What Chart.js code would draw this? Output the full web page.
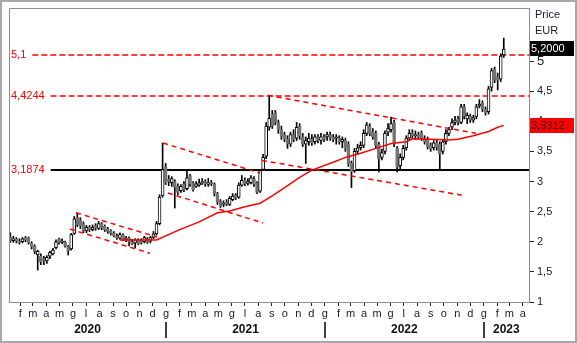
<!DOCTYPE html>
<html>
<head>
<meta charset="utf-8">
<script src="https://cdn.jsdelivr.net/npm/chart.js@4.4.1/dist/chart.umd.min.js"></script>
<style>
  html, body { margin: 0; padding: 0; background: #fff; }
  #wrap { width: 577px; height: 343px; }
</style>
</head>
<body>
<div id="wrap"><canvas id="chart" width="577" height="343"></canvas></div>
<script>
// Candele settimanali, la prima il 9 gennaio 2020
const firstWeek = '2020-01-09';
const rangeStart = '2020-01-06';
const rangeEnd = '2023-04-15';

const opens = [
  2.08, 2.02, 2.05, 2.01, 2.00, 2.07, 2.06, 1.98, 1.93, 1.78,
  1.76, 1.72, 1.68, 1.76, 1.80, 1.90, 2.04, 1.99, 1.99, 1.92,
  1.88, 2.14, 2.40, 2.36, 2.30, 2.18, 2.24, 2.20, 2.27, 2.22,
  2.30, 2.26, 2.21, 2.18, 2.14, 2.10, 2.06, 2.11, 2.04, 2.06,
  2.00, 1.98, 2.03, 2.02, 2.00, 2.05, 2.01, 2.07, 2.13, 2.30,
  2.76, 3.24, 3.04, 2.98, 3.00, 2.92, 2.85, 2.96, 2.88, 3.10,
  2.98, 2.92, 2.94, 2.98, 3.00, 2.95, 2.98, 2.96, 2.80, 2.68,
  2.62, 2.66, 2.62, 2.70, 2.78, 2.74, 2.94, 3.02, 2.97, 2.98,
  3.05, 2.98, 2.84, 3.20, 3.42, 3.90, 4.12, 4.14, 3.98, 3.86,
  3.78, 3.70, 3.62, 3.78, 3.72, 3.92, 3.74, 3.62, 3.66, 3.70,
  3.66, 3.74, 3.68, 3.74, 3.74, 3.78, 3.74, 3.72, 3.72, 3.66,
  3.68, 3.62, 3.30, 3.18, 3.50, 3.56, 3.60, 3.80, 3.92, 3.82,
  3.80, 3.62, 3.40, 3.50, 3.82, 3.86, 3.98, 3.55, 3.26, 3.40,
  3.56, 3.72, 3.80, 3.76, 3.78, 3.80, 3.72, 3.70, 3.60, 3.56,
  3.64, 3.62, 3.50, 3.66, 3.80, 3.90, 3.98, 4.04, 3.98, 4.24,
  4.04, 4.08, 4.02, 4.08, 4.26, 4.30, 4.20, 4.16, 4.56, 4.86,
  4.74, 4.70, 5.10
];
const highs = [
  2.15, 2.09, 2.07, 2.05, 2.07, 2.09, 2.08, 2.00, 1.95, 1.86,
  1.80, 1.76, 1.77, 1.84, 1.89, 2.03, 2.06, 2.05, 2.01, 1.94,
  2.14, 2.42, 2.48, 2.40, 2.33, 2.27, 2.27, 2.28, 2.30, 2.34,
  2.32, 2.28, 2.24, 2.20, 2.17, 2.13, 2.15, 2.13, 2.09, 2.08,
  2.04, 2.05, 2.05, 2.05, 2.09, 2.07, 2.09, 2.17, 2.34, 2.78,
  3.64, 3.30, 3.10, 3.08, 3.03, 2.96, 2.95, 3.00, 3.20, 3.12,
  3.00, 3.00, 3.04, 3.05, 3.03, 3.05, 3.02, 2.98, 2.82, 2.70,
  2.68, 2.70, 2.75, 2.80, 2.80, 2.98, 3.10, 3.06, 3.05, 3.10,
  3.08, 3.00, 3.20, 3.45, 3.98, 4.43, 4.18, 4.18, 4.02, 3.92,
  3.82, 3.76, 3.82, 3.86, 3.98, 3.96, 3.80, 3.74, 3.80, 3.78,
  3.78, 3.78, 3.80, 3.78, 3.82, 3.82, 3.78, 3.78, 3.76, 3.74,
  3.72, 3.66, 3.34, 3.55, 3.62, 3.66, 3.86, 3.98, 3.96, 3.88,
  3.84, 3.65, 3.54, 3.84, 3.96, 4.07, 4.02, 3.58, 3.46, 3.60,
  3.76, 3.86, 3.86, 3.84, 3.82, 3.84, 3.76, 3.74, 3.64, 3.68,
  3.70, 3.66, 3.70, 3.86, 3.90, 4.04, 4.08, 4.08, 4.28, 4.28,
  4.14, 4.12, 4.10, 4.28, 4.36, 4.34, 4.24, 4.58, 4.88, 4.90,
  4.80, 5.12, 5.38
];
const lows = [
  1.99, 1.99, 1.98, 1.96, 1.98, 2.00, 1.96, 1.88, 1.80, 1.53,
  1.62, 1.62, 1.64, 1.72, 1.78, 1.88, 1.96, 1.97, 1.91, 1.78,
  1.86, 2.12, 2.25, 2.22, 2.15, 2.15, 2.17, 2.18, 2.19, 2.20,
  2.20, 2.17, 2.14, 2.11, 2.08, 2.04, 2.04, 2.02, 2.00, 1.93,
  1.95, 1.90, 1.95, 1.96, 1.98, 1.97, 1.98, 2.05, 2.11, 2.28,
  2.74, 2.95, 2.93, 2.92, 2.56, 2.78, 2.82, 2.83, 2.86, 2.92,
  2.84, 2.90, 2.92, 2.95, 2.92, 2.92, 2.93, 2.76, 2.62, 2.57,
  2.58, 2.60, 2.60, 2.68, 2.70, 2.72, 2.92, 2.93, 2.94, 2.96,
  2.92, 2.80, 2.82, 3.18, 3.38, 3.85, 3.88, 3.94, 3.80, 3.70,
  3.66, 3.55, 3.58, 3.66, 3.68, 3.70, 3.58, 3.30, 3.60, 3.60,
  3.62, 3.64, 3.62, 3.66, 3.68, 3.68, 3.66, 3.62, 3.62, 3.56,
  3.50, 3.25, 2.90, 3.15, 3.46, 3.52, 3.56, 3.76, 3.76, 3.70,
  3.55, 3.16, 3.36, 3.46, 3.76, 3.82, 3.58, 3.16, 3.20, 3.36,
  3.52, 3.68, 3.72, 3.70, 3.70, 3.68, 3.62, 3.54, 3.50, 3.52,
  3.52, 3.18, 3.46, 3.62, 3.76, 3.86, 3.94, 3.94, 3.96, 4.04,
  3.96, 3.98, 3.98, 4.04, 4.22, 4.16, 4.10, 4.12, 4.50, 4.64,
  4.52, 4.66, 5.06
];
const closes = [
  2.02, 2.05, 2.01, 2.00, 2.05, 2.03, 1.98, 1.92, 1.84, 1.84,
  1.67, 1.68, 1.74, 1.82, 1.86, 2.00, 1.99, 2.01, 1.93, 1.85,
  2.12, 2.38, 2.28, 2.26, 2.18, 2.24, 2.20, 2.24, 2.22, 2.30,
  2.24, 2.20, 2.17, 2.14, 2.10, 2.06, 2.12, 2.04, 2.06, 2.00,
  1.97, 2.03, 1.97, 1.99, 2.07, 1.99, 2.07, 2.13, 2.30, 2.74,
  3.20, 2.98, 3.00, 3.05, 2.90, 2.82, 2.92, 2.86, 3.06, 2.96,
  2.86, 2.96, 2.98, 3.00, 2.96, 2.98, 2.96, 2.80, 2.66, 2.60,
  2.64, 2.62, 2.72, 2.76, 2.72, 2.94, 3.02, 2.96, 3.00, 3.06,
  2.96, 2.82, 3.18, 3.40, 3.92, 4.05, 3.92, 3.98, 3.86, 3.75,
  3.70, 3.62, 3.78, 3.70, 3.90, 3.76, 3.62, 3.68, 3.72, 3.64,
  3.74, 3.68, 3.74, 3.70, 3.78, 3.72, 3.70, 3.74, 3.66, 3.70,
  3.55, 3.30, 3.16, 3.50, 3.56, 3.60, 3.80, 3.94, 3.80, 3.74,
  3.60, 3.38, 3.48, 3.80, 3.88, 3.96, 3.62, 3.24, 3.40, 3.55,
  3.72, 3.80, 3.76, 3.78, 3.74, 3.72, 3.66, 3.58, 3.54, 3.64,
  3.58, 3.46, 3.66, 3.80, 3.86, 3.98, 4.02, 3.98, 4.24, 4.08,
  4.10, 4.02, 4.06, 4.24, 4.28, 4.20, 4.14, 4.54, 4.84, 4.70,
  4.68, 5.08, 5.20
];

// media mobile: settimana (indice candela) e valore
const maWeeks = [36, 42, 48, 56, 62, 68, 72, 77, 82, 86, 91, 95, 99, 106, 110, 115, 120, 125, 130, 132, 138, 144, 147, 152, 157, 160, 162];
const maValues = [2.03, 2.03, 2.03, 2.21, 2.33, 2.48, 2.51, 2.58, 2.64, 2.76, 2.93, 3.07, 3.19, 3.32, 3.40, 3.47, 3.55, 3.63, 3.66, 3.71, 3.70, 3.69, 3.70, 3.76, 3.83, 3.90, 3.9312];

// linee di tendenza: [da, valore, a, valore]
const trendLines = [
  ['2020-06-08', 2.48, '2020-12-11', 2.08],
  ['2020-05-25', 2.21, '2020-11-25', 1.81],
  ['2020-12-25', 3.64, '2021-08-05', 3.14],
  ['2021-01-05', 2.81, '2021-08-12', 2.31],
  ['2021-08-23', 4.43, '2022-12-14', 3.80],
  ['2021-08-09', 3.35, '2022-11-14', 2.77]
];

// livelli orizzontali
const levelValues = [5.1, 4.4244, 3.1874];
const levelLabels = ['5,1', '4,4244', '3,1874'];

const lastPrice = 5.2;
const lastAverage = 3.9312;

const yTicks = [1, 1.5, 2, 2.5, 3, 3.5, 4, 4.5, 5];
const monthLetters = ['g', 'f', 'm', 'a', 'm', 'g', 'l', 'a', 's', 'o', 'n', 'd'];
const years = [2020, 2021, 2022, 2023];

const fontFamily = "'Liberation Sans', Arial, sans-serif";
const textColor = '#1a1a2e';
const axisColor = '#8c8c96';
const red = '#ff0000';
const downColor = '#747474';

const epoch = Date.UTC(2020, 0, 1);
const toDay = s => (Date.parse(s) - epoch) / 864e5;
const firstDay = toDay(firstWeek);
const weekDays = closes.map((c, i) => firstDay + 7 * i);
const xMin = toDay(rangeStart);
const xMax = toDay(rangeEnd);

// inizio di ogni mese visibile
const monthTicks = [];
years.forEach(yr => {
  for (let m = 0; m < 12; m++) {
    const d = (Date.UTC(yr, m, 1) - epoch) / 864e5;
    if (d >= xMin && d <= xMax) monthTicks.push({ value: d, letter: monthLetters[m] });
  }
});

const isUp = i => closes[i] >= opens[i];

const datasets = [
  {
    type: 'line',
    data: maWeeks.map((w, k) => ({ x: weekDays[w], y: maValues[k] })),
    borderColor: red,
    borderWidth: 1.5,
    pointRadius: 0,
    order: 0
  },
  ...trendLines.map(t => ({
    type: 'line',
    data: [{ x: toDay(t[0]), y: t[1] }, { x: toDay(t[2]), y: t[3] }],
    borderColor: red,
    borderWidth: 1.5,
    borderDash: [5, 4],
    pointRadius: 0,
    order: 0
  })),
  {
    type: 'bar',
    data: weekDays.map((d, i) => ({ x: d, y: [opens[i], closes[i]] })),
    backgroundColor: ctx => isUp(ctx.dataIndex) ? '#ffffff' : downColor,
    borderColor: ctx => isUp(ctx.dataIndex) ? '#000000' : downColor,
    borderWidth: 1,
    borderSkipped: false,
    barThickness: 3,
    grouped: false,
    order: 1
  },
  {
    type: 'bar',
    data: weekDays.map((d, i) => ({ x: d, y: [lows[i], highs[i]] })),
    backgroundColor: '#000000',
    barThickness: 1,
    grouped: false,
    order: 2
  }
];

// cornice esterna e bordi sinistro/superiore dell'area del grafico
const framePlugin = {
  id: 'frame',
  beforeDraw(chart) {
    const { ctx, width, height } = chart;
    ctx.save();
    ctx.fillStyle = '#ffffff';
    ctx.fillRect(0, 0, width, height);
    ctx.strokeStyle = '#a8a8a8';
    ctx.lineWidth = 2;
    ctx.strokeRect(1, 1, width - 2, height - 2);
    ctx.restore();
  },
  afterDatasetsDraw(chart) {
    const { ctx, chartArea: a } = chart;
    ctx.save();
    ctx.strokeStyle = axisColor;
    ctx.lineWidth = 1;
    ctx.beginPath();
    ctx.moveTo(a.left + 0.5, a.bottom);
    ctx.lineTo(a.left + 0.5, a.top + 0.5);
    ctx.lineTo(a.right, a.top + 0.5);
    ctx.stroke();
    ctx.restore();
  }
};

// livelli di prezzo con etichetta a sinistra
const levelPlugin = {
  id: 'levels',
  beforeDatasetsDraw(chart) {
    const { ctx, chartArea: a, scales: { y } } = chart;
    ctx.save();
    ctx.font = `11px ${fontFamily}`;
    ctx.textBaseline = 'middle';
    levelValues.forEach((v, k) => {
      const py = Math.round(y.getPixelForValue(v));
      const label = levelLabels[k];
      ctx.fillStyle = red;
      ctx.fillText(label, a.left + 2, py);
      const x0 = a.left + 2 + ctx.measureText(label).width + 6;
      const solid = k === levelValues.length - 1;
      ctx.strokeStyle = solid ? '#000000' : red;
      ctx.lineWidth = solid ? 2 : 1.5;
      ctx.setLineDash(solid ? [] : [6, 3]);
      ctx.beginPath();
      ctx.moveTo(x0, py);
      ctx.lineTo(a.right, py);
      ctx.stroke();
    });
    ctx.restore();
  }
};

// anni sotto i mesi, intestazione e valori correnti a destra
const sidePlugin = {
  id: 'side',
  afterDraw(chart) {
    const { ctx, chartArea: a, scales: { x, y }, width } = chart;
    ctx.save();

    ctx.font = `bold 12px ${fontFamily}`;
    ctx.textAlign = 'center';
    ctx.textBaseline = 'middle';
    ctx.fillStyle = '#111111';
    years.forEach(yr => {
      const s = Math.max(x.getPixelForValue(toDay(`${yr}-01-01`)), a.left);
      const e = Math.min(x.getPixelForValue(toDay(`${yr + 1}-01-01`)), a.right);
      ctx.fillText(String(yr), (s + e) / 2, 330);
    });
    ctx.strokeStyle = '#000000';
    ctx.lineWidth = 1.5;
    years.slice(1).forEach(yr => {
      const px = Math.round(x.getPixelForValue(toDay(`${yr}-01-01`)));
      ctx.beginPath();
      ctx.moveTo(px, 322);
      ctx.lineTo(px, 338);
      ctx.stroke();
    });

    ctx.font = `11px ${fontFamily}`;
    ctx.textAlign = 'left';
    ctx.fillStyle = textColor;
    ctx.fillText('Price', a.right + 6, 15);
    ctx.fillText('EUR', a.right + 6, 31);

    [[lastPrice, '#000000', '#ffffff'], [lastAverage, red, textColor]].forEach(([v, bg, fg]) => {
      const py = y.getPixelForValue(v);
      ctx.fillStyle = bg;
      ctx.fillRect(a.right + 1, Math.round(py - 7.5), width - 3 - a.right - 1, 15);
      ctx.fillStyle = fg;
      ctx.fillText(v.toFixed(4).replace('.', ','), a.right + 2, py + 0.5);
    });
    ctx.restore();
  }
};

// niente margini automatici per le etichette: l'area del grafico resta fissa
const noLabelPadding = s => {
  s.paddingTop = 0;
  s.paddingBottom = 0;
  s.paddingLeft = 0;
  s.paddingRight = 0;
};

new Chart(document.getElementById('chart'), {
  type: 'bar',
  data: { datasets },
  options: {
    responsive: false,
    devicePixelRatio: 1,
    animation: false,
    events: [],
    layout: { padding: { left: 9, top: 8, right: 0, bottom: 0 } },
    plugins: { legend: { display: false }, tooltip: { enabled: false } },
    scales: {
      x: {
        type: 'linear',
        min: xMin,
        max: xMax,
        offset: false,
        afterBuildTicks: s => { s.ticks = monthTicks.map(t => ({ value: t.value })); },
        afterFit: s => { s.height = 41; noLabelPadding(s); },
        ticks: {
          autoSkip: false,
          maxRotation: 0,
          padding: 1,
          color: textColor,
          font: { family: fontFamily, size: 11 },
          callback: (v, i) => monthTicks[i].letter
        },
        grid: { drawOnChartArea: false, offset: false, tickLength: 4, color: '#222222' },
        border: { color: axisColor }
      },
      y: {
        type: 'linear',
        position: 'right',
        min: 1,
        max: 5.88,
        afterBuildTicks: s => { s.ticks = yTicks.map(v => ({ value: v })); },
        afterFit: s => { s.width = 48; noLabelPadding(s); },
        ticks: {
          padding: 3,
          color: textColor,
          font: ctx => ({ family: fontFamily, size: ctx.tick && ctx.tick.value === 5 ? 13 : 11 }),
          callback: v => String(v).replace('.', ',')
        },
        grid: { drawOnChartArea: false, tickLength: 5, color: '#222222' },
        border: { color: axisColor }
      }
    }
  },
  plugins: [framePlugin, levelPlugin, sidePlugin]
});
</script>
</body>
</html>
